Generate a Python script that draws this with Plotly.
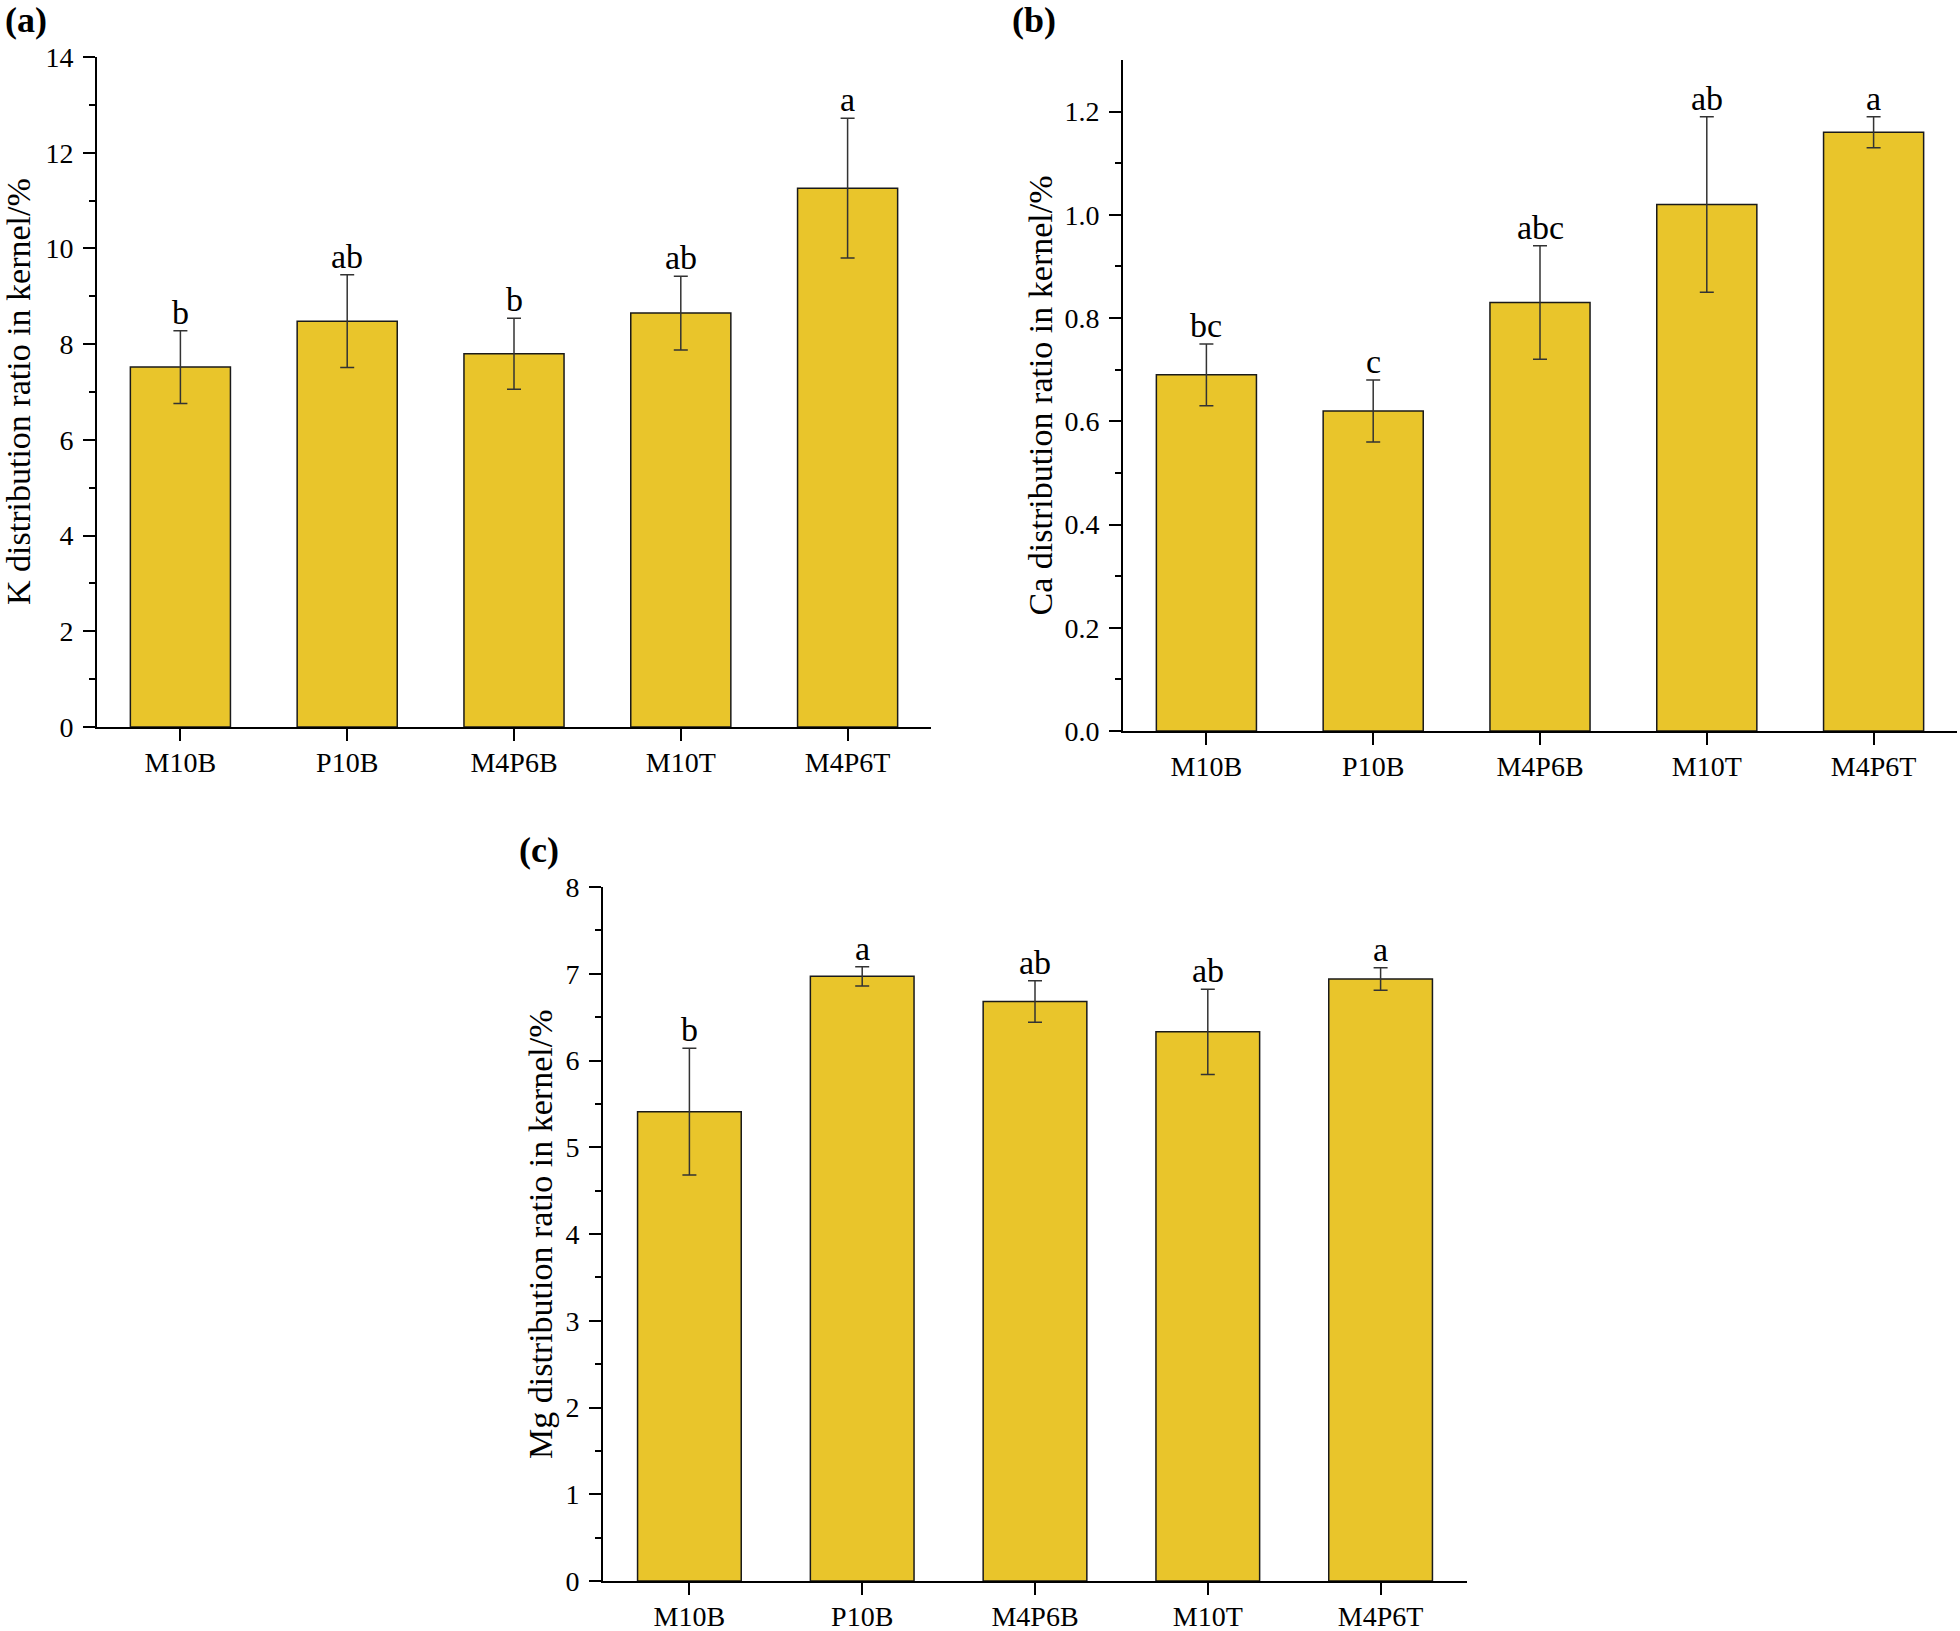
import plotly.graph_objects as go

categories = ["M10B", "P10B", "M4P6B", "M10T", "M4P6T"]

k_values = [7.52, 8.48, 7.80, 8.65, 11.26]
k_errors = [0.76, 0.97, 0.74, 0.77, 1.46]
k_letters = ["b", "ab", "b", "ab", "a"]

ca_values = [0.69, 0.62, 0.83, 1.02, 1.16]
ca_errors = [0.06, 0.06, 0.11, 0.17, 0.03]
ca_letters = ["bc", "c", "abc", "ab", "a"]

mg_values = [5.41, 6.97, 6.68, 6.33, 6.94]
mg_errors = [0.73, 0.11, 0.24, 0.49, 0.13]
mg_letters = ["b", "a", "ab", "ab", "a"]

W, H = 1960, 1631
FONT = "Liberation Serif, Times New Roman, serif"
BAR_COLOR = "#E9C52B"

fig = go.Figure()

def px_x(p):
    return p / W

def px_y(p):
    return 1 - p / H

panels = [
    dict(vals=k_values, errs=k_errors, letters=k_letters, xa="x", ya="y",
         xdom=(97, 931), ydom=(57, 727), yrange=[0, 14], dtick=2,
         minor=[1, 3, 5, 7, 9, 11, 13],
         title="K distribution ratio in kernel/%", tx=19,
         label="(a)", lx=3, ly=20, tickformat=None),
    dict(vals=ca_values, errs=ca_errors, letters=ca_letters, xa="x2", ya="y2",
         xdom=(1123, 1957), ydom=(60, 731), yrange=[0, 1.3], dtick=0.2,
         minor=[0.1, 0.3, 0.5, 0.7, 0.9, 1.1],
         title="Ca distribution ratio in kernel/%", tx=1040,
         label="(b)", lx=1010, ly=20, tickformat=".1f"),
    dict(vals=mg_values, errs=mg_errors, letters=mg_letters, xa="x3", ya="y3",
         xdom=(603, 1467), ydom=(887, 1581), yrange=[0, 8], dtick=1,
         minor=[0.5, 1.5, 2.5, 3.5, 4.5, 5.5, 6.5, 7.5],
         title="Mg distribution ratio in kernel/%", tx=540,
         label="(c)", lx=517, ly=850, tickformat=None),
]

annotations = []
layout_axes = {}
for i, p in enumerate(panels):
    suffix = "" if i == 0 else str(i + 1)
    fig.add_trace(go.Bar(
        x=categories, y=p["vals"], xaxis=p["xa"], yaxis=p["ya"],
        marker=dict(color=BAR_COLOR, line=dict(color="#1a1a1a", width=1.5)),
        error_y=dict(type="data", array=p["errs"], visible=True,
                     color="#333333", thickness=1.5, width=7),
        showlegend=False, hoverinfo="skip",
    ))
    layout_axes["xaxis" + suffix] = dict(
        domain=[px_x(p["xdom"][0]), px_x(p["xdom"][1])],
        anchor=p["ya"], range=[-0.5, 4.5], type="category",
        showline=True, linecolor="black", linewidth=2,
        ticks="outside", ticklen=12, tickwidth=2, tickcolor="black",
        ticklabelstandoff=-3,
        showgrid=False, zeroline=False, automargin=False,
        tickfont=dict(family=FONT, size=28, color="black"),
        fixedrange=True,
    )
    ya = dict(
        domain=[px_y(p["ydom"][1]), px_y(p["ydom"][0])],
        anchor=p["xa"], range=p["yrange"], dtick=p["dtick"], tick0=0,
        showline=True, linecolor="black", linewidth=2,
        ticks="outside", ticklen=12, tickwidth=2, tickcolor="black",
        ticklabelstandoff=4,
        minor=dict(tickvals=p["minor"], ticks="outside", ticklen=6,
                   tickwidth=2, tickcolor="black", showgrid=False),
        showgrid=False, zeroline=False, automargin=False,
        tickfont=dict(family=FONT, size=28, color="black"),
        fixedrange=True,
    )
    if p["tickformat"]:
        ya["tickformat"] = p["tickformat"]
    layout_axes["yaxis" + suffix] = ya

    for c, v, e, t in zip(categories, p["vals"], p["errs"], p["letters"]):
        annotations.append(dict(
            x=c, y=v + e, xref=p["xa"], yref=p["ya"], text=t,
            showarrow=False, yanchor="bottom", xanchor="center", yshift=-2,
            font=dict(family=FONT, size=34, color="black"),
        ))
    yc = (p["ydom"][0] + p["ydom"][1]) / 2
    annotations.append(dict(
        x=px_x(p["tx"]), y=px_y(yc), xref="paper", yref="paper",
        text=p["title"], textangle=-90, showarrow=False,
        xanchor="center", yanchor="middle",
        font=dict(family=FONT, size=34, color="black"),
    ))
    annotations.append(dict(
        x=px_x(p["lx"]), y=px_y(p["ly"]), xref="paper", yref="paper",
        text="<b>" + p["label"] + "</b>", showarrow=False,
        xanchor="left", yanchor="middle",
        font=dict(family=FONT, size=36, color="black"),
    ))

fig.update_layout(
    width=W, height=H,
    margin=dict(l=0, r=0, t=0, b=0, autoexpand=False),
    paper_bgcolor="white", plot_bgcolor="white",
    bargap=0.4,
    annotations=annotations,
    **layout_axes,
)

fig.write_html(
    "out.html",
    config={"displayModeBar": False, "staticPlot": True},
    post_script="document.body.style.margin='0px';"
                "document.body.style.padding='0px';"
                "document.documentElement.style.overflow='hidden';",
)
